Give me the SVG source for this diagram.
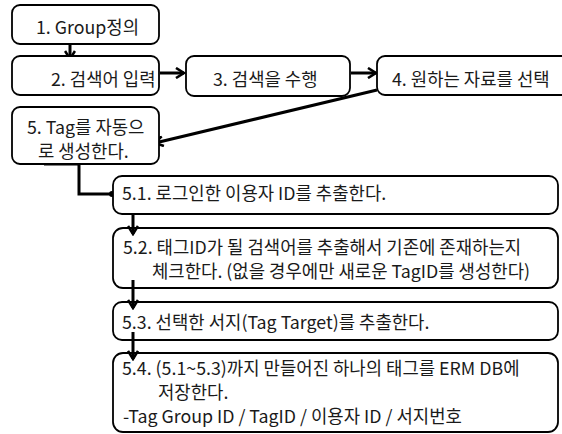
<svg xmlns="http://www.w3.org/2000/svg" width="562" height="434" viewBox="0 0 562 434">
<style>
.box{fill:#fff;stroke:#000;stroke-width:1.8}
.t{font-family:"Noto Sans CJK KR","Noto Sans",sans-serif;font-size:17.8px;fill:#1a1a1a}
.c{fill:none;stroke:#000;stroke-width:3}
</style>
<defs>
<marker id="ah" viewBox="0 0 12 12" refX="10" refY="6" markerWidth="12" markerHeight="12" markerUnits="userSpaceOnUse" orient="auto">
<path d="M2,1 L10,6 L2,11" fill="none" stroke="#000" stroke-width="2.6"/>
</marker>
</defs>
<rect width="562" height="434" fill="#fff"/>
<g id="connectors">
<line class="c" x1="70" y1="44" x2="70" y2="59" marker-end="url(#ah)"/>
<line class="c" x1="160" y1="73" x2="184" y2="73" marker-end="url(#ah)"/>
<line class="c" x1="351" y1="73" x2="376" y2="73" marker-end="url(#ah)"/>
<line class="c" x1="377" y1="90" x2="155" y2="143" marker-end="url(#ah)"/>
<path class="c" d="M44,164 H79 V194 H112"/>
<circle cx="112" cy="194" r="3" fill="#000"/>
</g>
<g id="n1"><rect class="box" x="12" y="5" width="147" height="39" rx="8"/><text class="t" x="36" y="34">1. Group정의</text></g>
<g id="n2"><rect class="box" x="12" y="56" width="147" height="39" rx="8"/><text class="t" x="51" y="86">2. 검색어 입력</text></g>
<g id="n3"><rect class="box" x="186" y="56" width="164" height="40" rx="8"/><text class="t" x="213" y="86">3. 검색을 수행</text></g>
<g id="n4"><rect class="box" x="377" y="56" width="200" height="39" rx="8"/><text class="t" x="392" y="86">4. 원하는 자료를 선택</text></g>
<g id="n5"><rect class="box" x="12" y="107" width="147" height="57" rx="8"/><text class="t" x="27" y="134">5. Tag를 자동으</text><text class="t" x="38" y="158">로 생성한다.</text></g>
<g id="n51"><rect class="box" x="113" y="176" width="445" height="38" rx="9"/><text class="t" x="122" y="200">5.1.  로그인한 이용자 ID를 추출한다.</text></g>
<g id="n52"><rect class="box" x="113" y="228" width="445" height="60" rx="10"/><text class="t" x="123" y="254">5.2. 태그ID가 될 검색어를 추출해서 기존에 존재하는지</text><text class="t" x="152" y="278">체크한다. (없을 경우에만 새로운 TagID를 생성한다)</text></g>
<g id="n53"><rect class="box" x="113" y="302" width="445" height="38" rx="9"/><text class="t" x="122" y="329">5.3. 선택한 서지(Tag Target)를 추출한다.</text></g>
<g id="n54"><rect class="box" x="113" y="353" width="445" height="79" rx="10"/><text class="t" x="122" y="375">5.4. (5.1~5.3)까지 만들어진 하나의 태그를 ERM DB에</text><text class="t" x="158" y="399">저장한다.</text><text class="t" x="123" y="423">-Tag Group ID / TagID / 이용자 ID / 서지번호</text></g>
<g id="connectors2">
<line class="c" x1="133" y1="213" x2="133" y2="234" marker-end="url(#ah)"/>
<line class="c" x1="133" y1="280" x2="133" y2="308" marker-end="url(#ah)"/>
<line class="c" x1="133" y1="332" x2="133" y2="359" marker-end="url(#ah)"/>
</g>
</svg>
